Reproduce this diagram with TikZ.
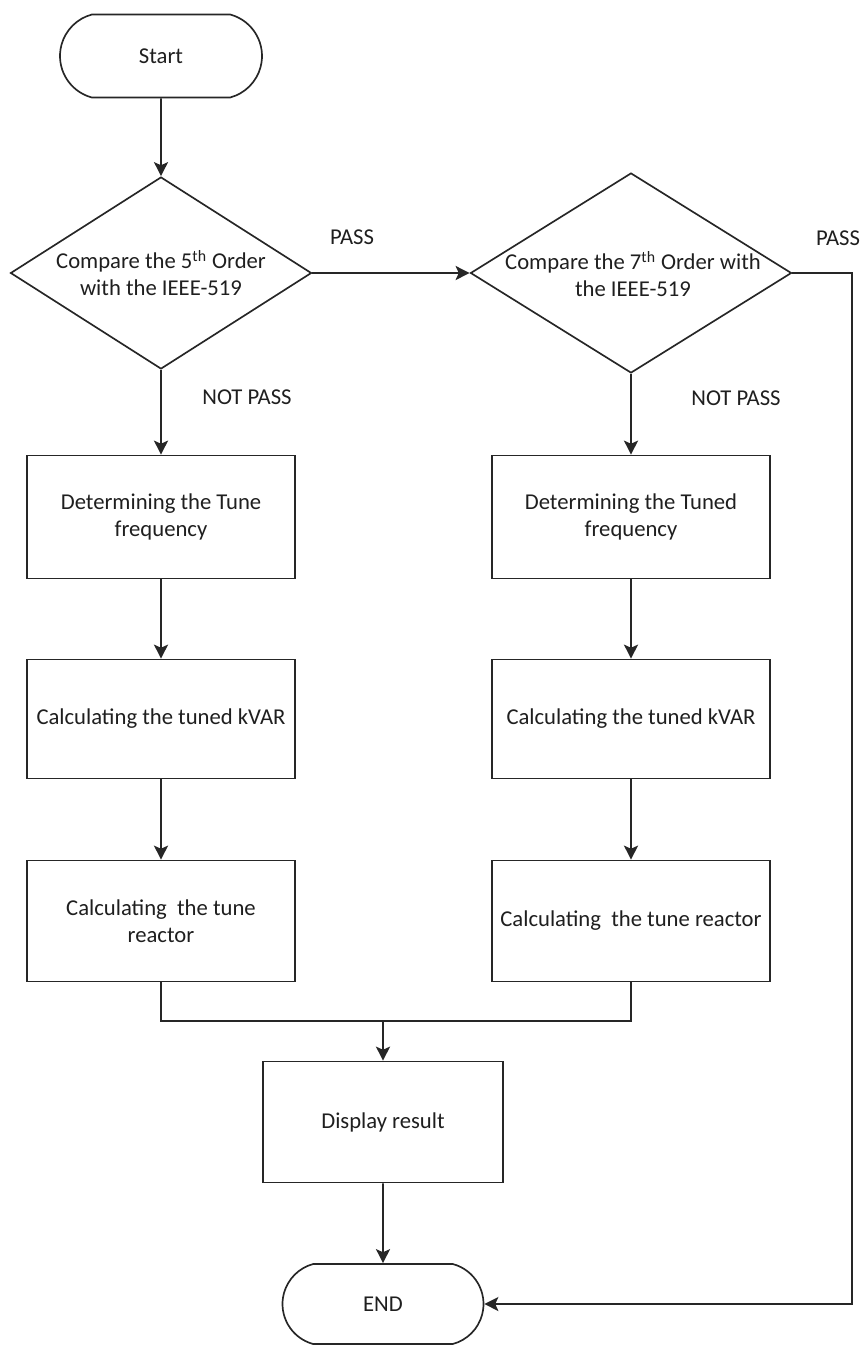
\documentclass[tikz,border=0pt]{standalone}
\usepackage{fontspec}
\setmainfont{Carlito}
\usetikzlibrary{shapes.geometric,shapes.misc,arrows.meta}
\newcommand\pxl{0.02cm}
\begin{document}
\begin{tikzpicture}[x=0.02cm,y=-0.02cm,
  every node/.style={font=\fontsize{12.9}{15.3}\selectfont, text=black!88},
  ln/.style={draw=black!85, line width=0.95pt},
  arr/.style={ln, -{Stealth[length=8pt,width=8pt,inset=1.8pt]}},
  term/.style={ln, rounded rectangle, rounded rectangle arc length=150, inner sep=0pt},
  dec/.style={ln, diamond, inner sep=0pt},
  proc/.style={ln, rectangle, inner sep=0pt, align=center, fill=white},
  lbl/.style={inner sep=0pt}
]
\useasboundingbox (0,0) rectangle (863,1346);

\node[term, minimum width=202*\pxl, minimum height=83*\pxl] (start) at (161,56) {Start};

\node[dec, minimum width=301*\pxl, minimum height=192*\pxl] (d1) at (161,273) {};
\node[lbl, align=center] (d1t) at (161,273) {Compare the 5\textsuperscript{th} Order\\with the IEEE-519};

\node[dec, minimum width=321*\pxl, minimum height=200*\pxl] (d2) at (631,273) {};
\node[lbl, align=center] (d2t) at (633,274) {Compare the 7\textsuperscript{th} Order with\\the IEEE-519};

\node[proc, minimum width=268*\pxl, minimum height=123*\pxl] (l1) at (161,517) {Determining the Tune\\frequency};
\node[proc, minimum width=268*\pxl, minimum height=119*\pxl] (l2) at (161,719) {Calculating the tuned kVAR};
\node[proc, minimum width=268*\pxl, minimum height=121*\pxl] (l3) at (161,921) {Calculating~ the tune\\reactor};

\node[proc, minimum width=278*\pxl, minimum height=123*\pxl] (r1) at (631,517) {Determining the Tuned\\frequency};
\node[proc, minimum width=278*\pxl, minimum height=119*\pxl] (r2) at (631,719) {Calculating the tuned kVAR};
\node[proc, minimum width=278*\pxl, minimum height=121*\pxl] (r3) at (631,921) {Calculating~ the tune reactor};

\node[proc, minimum width=240*\pxl, minimum height=121*\pxl] (disp) at (383,1122) {Display result};
\node[term, minimum width=201*\pxl, minimum height=80*\pxl] (end) at (383,1304) {END};

\node[lbl] (pass1) at (352,237) {PASS};
\node[lbl] (pass2) at (838,238) {PASS};
\node[lbl] (np1) at (247,397) {NOT PASS};
\node[lbl] (np2) at (736,398) {NOT PASS};

\coordinate (mergeL) at (161,1021);
\coordinate (mergeR) at (631,1021);
\coordinate (mergeM) at (383,1021);
\coordinate (rt) at (852,273);
\coordinate (rb) at (852,1304);

\draw[arr] (start) -- (d1);
\draw[arr] (d1.east) -- (d2.west);
\draw[arr] (d1.south) -- (l1);
\draw[arr] (l1) -- (l2);
\draw[arr] (l2) -- (l3);
\draw[arr] (d2.south) -- (r1);
\draw[arr] (r1) -- (r2);
\draw[arr] (r2) -- (r3);
\draw[ln] (l3.south) -- (mergeL) -- (mergeR) -- (r3.south);
\draw[arr] (mergeM) -- (disp);
\draw[arr] (disp) -- (end);
\draw[arr] (d2.east) -- (rt) -- (rb) -- (end.east);
\end{tikzpicture}
\end{document}
